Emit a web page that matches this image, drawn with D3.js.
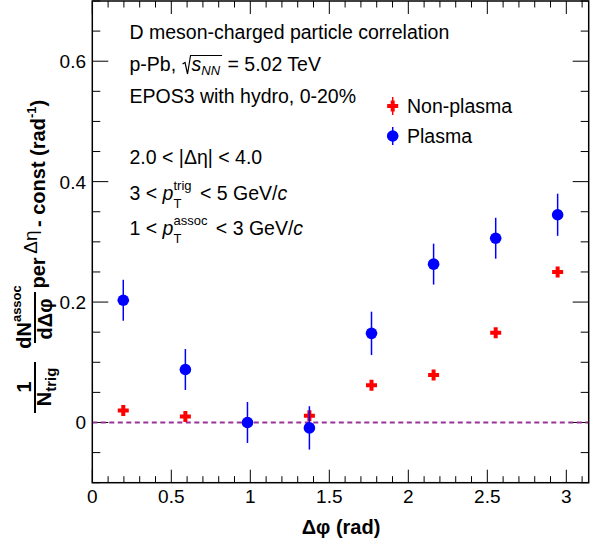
<!DOCTYPE html>
<html>
<head>
<meta charset="utf-8">
<script src="https://cdn.jsdelivr.net/npm/d3@7/dist/d3.min.js"></script>
<style>
  html, body { margin: 0; padding: 0; background: #fff; }
  svg text { font-family: "Liberation Sans", Arial, Helvetica, sans-serif; }
</style>
</head>
<body>
<svg id="chart" width="608" height="546"></svg>
<script>
// ---------- data ----------
const dphi = [0.196, 0.589, 0.982, 1.374, 1.767, 2.160, 2.553, 2.945];
const plasma = [0.203, 0.088, 0.000, -0.009, 0.148, 0.263, 0.306, 0.345];
const plasmaErr = [0.034, 0.034, 0.034, 0.036, 0.036, 0.034, 0.034, 0.035];
const nonPlasma = [0.020, 0.010, 0.000, 0.011, 0.062, 0.079, 0.149, 0.250];
const nonPlasmaErr = [0.004, 0.004, 0.004, 0.004, 0.004, 0.004, 0.004, 0.004];
const xTickLabels = ["0", "0.5", "1", "1.5", "2", "2.5", "3"];
const yTickLabels = ["0", "0.2", "0.4", "0.6"];
const seriesNames = ["Non-plasma", "Plasma"];

// ---------- layout ----------
const svg = d3.select("#chart");
const L = 92.3, R = 588.7, T = 1, B = 482.7;
const x = d3.scaleLinear().domain([0, Math.PI]).range([L, R]);
const y = d3.scaleLinear().domain([-0.1, 0.7]).range([B, T]);

// ticks
const xMajor = xTickLabels.map(Number);
const xMinor = d3.range(0, 31.5).map(i => i / 10).filter(v => v <= Math.PI && Math.abs(v * 2 - Math.round(v * 2)) > 1e-6);
const yMajor = yTickLabels.map(Number);
const yMinor = d3.range(-2, 15).map(i => i * 0.05).filter(v => Math.abs(v * 5 - Math.round(v * 5)) > 1e-6);

const axes = svg.append("g").attr("stroke", "#000").attr("stroke-width", 1);
function hTick(v, len) {
  axes.append("line").attr("x1", x(v)).attr("x2", x(v)).attr("y1", B).attr("y2", B - len);
  axes.append("line").attr("x1", x(v)).attr("x2", x(v)).attr("y1", T).attr("y2", T + len);
}
function vTick(v, len) {
  axes.append("line").attr("y1", y(v)).attr("y2", y(v)).attr("x1", L).attr("x2", L + len);
  axes.append("line").attr("y1", y(v)).attr("y2", y(v)).attr("x1", R).attr("x2", R - len);
}
xMajor.forEach(v => hTick(v, 13));
xMinor.forEach(v => hTick(v, 6.5));
yMajor.forEach(v => vTick(v, 16));
yMinor.forEach(v => vTick(v, 8));

// tick labels
svg.append("g").selectAll("text").data(xTickLabels).join("text")
  .attr("x", d => x(+d)).attr("y", 503).attr("text-anchor", "middle")
  .attr("font-size", 19).text(d => d);
svg.append("g").selectAll("text").data(yTickLabels).join("text")
  .attr("x", 86).attr("y", d => y(+d) + 7).attr("text-anchor", "end")
  .attr("font-size", 19).text(d => d);

// dashed zero line
svg.append("line").attr("x1", x(0)).attr("x2", x(Math.PI)).attr("y1", y(0)).attr("y2", y(0))
  .attr("stroke", "#993399").attr("stroke-width", 2).attr("stroke-dasharray", "5,3.5");

// frame
svg.append("rect").attr("x", L).attr("y", T).attr("width", R - L).attr("height", B - T)
  .attr("fill", "none").attr("stroke", "#000").attr("stroke-width", 1.5);

// ---------- markers ----------
function crossPath(cx, cy, s, a) {
  return `M${cx - a},${cy - s}H${cx + a}V${cy - a}H${cx + s}V${cy + a}H${cx + a}V${cy + s}H${cx - a}V${cy + a}H${cx - s}V${cy - a}H${cx - a}Z`;
}
const redG = svg.append("g");
dphi.forEach((d, i) => {
  redG.append("line").attr("x1", x(d)).attr("x2", x(d))
    .attr("y1", y(nonPlasma[i] - nonPlasmaErr[i])).attr("y2", y(nonPlasma[i] + nonPlasmaErr[i]))
    .attr("stroke", "#ff0000").attr("stroke-width", 1.5);
  redG.append("path").attr("d", crossPath(x(d), y(nonPlasma[i]), 5.5, 2)).attr("fill", "#ff0000");
});
const blueG = svg.append("g");
dphi.forEach((d, i) => {
  blueG.append("line").attr("x1", x(d)).attr("x2", x(d))
    .attr("y1", y(plasma[i] - plasmaErr[i])).attr("y2", y(plasma[i] + plasmaErr[i]))
    .attr("stroke", "#0000ff").attr("stroke-width", 1.5);
  blueG.append("circle").attr("cx", x(d)).attr("cy", y(plasma[i])).attr("r", 5.8).attr("fill", "#0000ff");
});

// ---------- legend ----------
const lg = svg.append("g");
lg.append("line").attr("x1", 392.7).attr("x2", 392.7).attr("y1", 97).attr("y2", 115).attr("stroke", "#ff0000").attr("stroke-width", 1.5);
lg.append("path").attr("d", crossPath(392.7, 106, 5.5, 2)).attr("fill", "#ff0000");
lg.append("line").attr("x1", 392.7).attr("x2", 392.7).attr("y1", 127).attr("y2", 145).attr("stroke", "#0000ff").attr("stroke-width", 1.5);
lg.append("circle").attr("cx", 392.7).attr("cy", 136).attr("r", 5.8).attr("fill", "#0000ff");
lg.append("text").attr("x", 407).attr("y", 113).attr("font-size", 19.5).text(seriesNames[0]);
lg.append("text").attr("x", 407).attr("y", 143).attr("font-size", 19.5).text(seriesNames[1]);

// ---------- rich text helper ----------
function runs(parent, x0, y0, items, base) {
  let cx = x0;
  items.forEach(it => {
    if (it.gap) { cx += it.gap; return; }
    if (it.stack) {
      let w = 0;
      it.stack.forEach(s => {
        const t = parent.append("text").attr("x", cx).attr("y", y0 + (s.dy || 0))
          .attr("font-size", s.size || base.size).attr("font-weight", base.bold ? "bold" : "normal")
          .attr("font-style", s.italic ? "italic" : "normal").text(s.t);
        w = Math.max(w, t.node().getComputedTextLength());
      });
      cx += w;
      return;
    }
    const t = parent.append("text").attr("x", cx).attr("y", y0 + (it.dy || 0))
      .attr("font-size", it.size || base.size)
      .attr("font-weight", it.bold !== undefined ? (it.bold ? "bold" : "normal") : (base.bold ? "bold" : "normal"))
      .attr("font-style", it.italic ? "italic" : "normal")
      .style("white-space", "pre").text(it.t);
    cx += t.node().getComputedTextLength();
  });
  return cx;
}
function widthOf(parent, items, base) {
  const g = parent.append("g").attr("opacity", 0);
  const w = runs(g, 0, 0, items, base);
  g.remove();
  return w;
}

// ---------- annotations ----------
const ann = svg.append("g");
const AX = 129.5, AS = 19.5;
runs(ann, AX, 39, [{ t: "D meson-charged particle correlation" }], { size: AS });
{
  const by = 71;
  let cx = runs(ann, AX, by, [{ t: "p-Pb, " }], { size: AS });
  const r0 = cx + 1;
  const sStart = r0 + 8;
  const sEnd = runs(ann, sStart + 1, by, [{ t: "s", italic: true }, { t: "NN", italic: true, size: 13, dy: 4 }], { size: AS });
  ann.append("path")
    .attr("d", `M${r0},${by - 7}L${r0 + 2.5},${by - 8.5}L${r0 + 5},${by + 3}L${r0 + 8},${by - 15.5}H${sEnd + 2}`)
    .attr("fill", "none").attr("stroke", "#000").attr("stroke-width", 1.2);
  runs(ann, sEnd + 2, by, [{ t: " = 5.02 TeV" }], { size: AS });
}
runs(ann, AX, 103, [{ t: "EPOS3 with hydro, 0-20%" }], { size: AS });
runs(ann, AX, 164, [{ t: "2.0 < |Δη| < 4.0" }], { size: AS });
runs(ann, AX, 200, [{ t: "3 < " }, { t: "p", italic: true },
  { stack: [{ t: "trig", size: 13, dy: -10 }, { t: "T", size: 13, dy: 8 }] },
  { gap: 3 }, { t: " < 5 GeV/" }, { t: "c", italic: true }], { size: AS });
runs(ann, AX, 235, [{ t: "1 < " }, { t: "p", italic: true },
  { stack: [{ t: "assoc", size: 13, dy: -10 }, { t: "T", size: 13, dy: 8 }] },
  { gap: 3 }, { t: " < 3 GeV/" }, { t: "c", italic: true }], { size: AS });

// ---------- x title ----------
svg.append("text").attr("x", 341).attr("y", 534).attr("text-anchor", "middle")
  .attr("font-size", 20).attr("font-weight", "bold").text("Δφ (rad)");

// ---------- y title (rotated; local x = -screen y, local y = screen x) ----------
{
  const g = svg.append("g").attr("transform", "rotate(-90)");
  const base = { size: 20, bold: true };
  function centered(items, cy, bx, b) {
    const w = widthOf(g, items, b || base);
    runs(g, -cy - w / 2, bx, items, b || base);
  }
  function bar(y1, y2, bx) {
    g.append("line").attr("x1", -y2).attr("x2", -y1).attr("y1", bx).attr("y2", bx)
      .attr("stroke", "#000").attr("stroke-width", 2);
  }
  // 1 / N_trig
  bar(362, 413, 35);
  centered([{ t: "1" }], 387, 31);
  centered([{ t: "N" }, { t: "trig", size: 15, dy: 5 }], 387, 51);
  // dN^assoc / dΔφ
  bar(292, 343, 35);
  centered([{ t: "dN" }, { t: "assoc", size: 13, dy: -10 }], 317, 31);
  centered([{ t: "dΔφ" }], 319, 52);
  // per  Δη  - const (rad^-1)
  centered([{ t: "per" }], 273, 45, { size: 20, bold: true });
  centered([{ t: "Δη" }], 242, 37, { size: 19, bold: false });
  runs(g, -227, 45, [{ t: "- const (rad" }, { t: "-1", size: 13, dy: -9 }, { t: ")" }], base);
}
</script>
</body>
</html>
